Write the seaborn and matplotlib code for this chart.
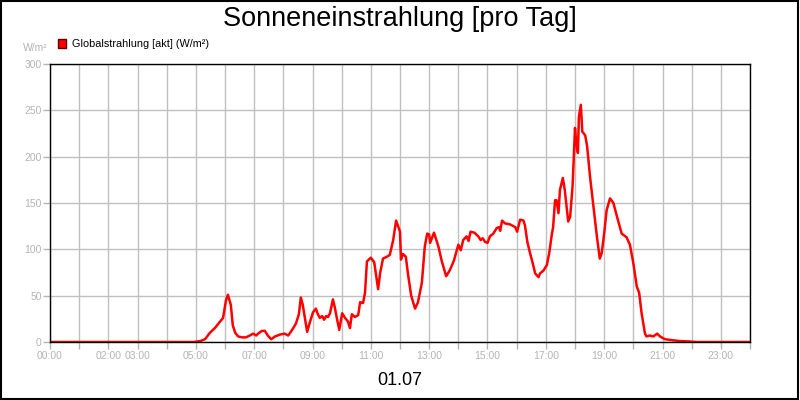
import pandas as pd
import matplotlib.pyplot as plt
import seaborn as sns
from matplotlib.patches import Patch, Rectangle

# Data: time of day and global radiation in W/m²
times = [
    "00:00", "04:55", "05:09", "05:19", "05:29", "05:39", "05:50", "05:56", "06:02", "06:06",
    "06:12", "06:16", "06:21", "06:27", "06:35", "06:43", "06:51", "06:58", "07:04", "07:08",
    "07:16", "07:22", "07:28", "07:35", "07:43", "07:53", "08:03", "08:10", "08:18", "08:26",
    "08:32", "08:36", "08:40", "08:45", "08:49", "08:55", "09:01", "09:07", "09:11", "09:15",
    "09:20", "09:24", "09:28", "09:32", "09:36", "09:42", "09:46", "09:50", "09:55", "10:01",
    "10:07", "10:13", "10:17", "10:21", "10:27", "10:34", "10:38", "10:44", "10:48", "10:52",
    "11:00", "11:07", "11:15", "11:19", "11:25", "11:33", "11:39", "11:46", "11:52", "12:00",
    "12:02", "12:06", "12:12", "12:16", "12:23", "12:31", "12:37", "12:45", "12:51", "12:56",
    "13:00", "13:02", "13:10", "13:19", "13:26", "13:35", "13:43", "13:51", "14:00", "14:05",
    "14:10", "14:17", "14:21", "14:25", "14:33", "14:41", "14:46", "14:50", "14:55", "15:00",
    "15:05", "15:12", "15:19", "15:24", "15:26", "15:30", "15:36", "15:46", "15:57", "16:01",
    "16:07", "16:14", "16:17", "16:22", "16:27", "16:34", "16:38", "16:45", "16:48", "16:55",
    "17:02", "17:07", "17:12", "17:15", "17:19", "17:22", "17:26", "17:29", "17:35", "17:39",
    "17:46", "17:50", "17:55", "18:00", "18:03", "18:06", "18:08", "18:12", "18:15", "18:21",
    "18:25", "18:31", "18:38", "18:45", "18:51", "18:55", "19:00", "19:05", "19:12", "19:19",
    "19:26", "19:36", "19:46", "19:53", "20:00", "20:07", "20:12", "20:17", "20:24", "20:27",
    "20:34", "20:41", "20:49", "20:55", "21:05", "21:19", "21:36", "21:57", "22:10", "24:00",
]
radiation = [
    0, 0, 1, 3, 10, 15, 22, 26, 45, 51,
    40, 18, 10, 6, 5, 5, 7, 9, 7, 9,
    12, 12, 7, 3, 6, 8, 9, 7, 13, 20,
    30, 48, 40, 24, 11, 22, 32, 36, 30, 26,
    28, 24, 28, 27, 31, 46, 37, 26, 13, 31,
    26, 22, 15, 30, 27, 29, 43, 42, 53, 87,
    91, 86, 57, 74, 90, 92, 94, 110, 131, 119,
    89, 95, 92, 75, 50, 36, 43, 64, 103, 117,
    116, 107, 118, 103, 87, 71, 78, 88, 105, 99,
    110, 114, 109, 119, 118, 114, 110, 112, 108, 107,
    114, 117, 123, 124, 120, 131, 128, 127, 124, 119,
    132, 131, 126, 108, 97, 83, 74, 70, 74, 77,
    83, 96, 115, 124, 153, 153, 139, 164, 177, 164,
    130, 135, 168, 231, 213, 204, 243, 256, 227, 223,
    211, 178, 146, 114, 90, 96, 117, 142, 155, 150,
    136, 117, 113, 105, 85, 60, 53, 31, 9, 6,
    7, 6, 9, 6, 3, 2, 1, 0.5, 0, 0,
]
hour_labels = ["00:00", "", "02:00", "03:00", "", "05:00", "", "07:00", "", "09:00",
               "", "11:00", "", "13:00", "", "15:00", "", "17:00", "", "19:00",
               "", "21:00", "", "23:00", ""]

df = pd.DataFrame({"time": times, "value": radiation})
df["hour"] = df["time"].apply(lambda t: int(t[:2]) + int(t[3:]) / 60)

sns.set_style("white")
plt.rcParams["font.family"] = ["Liberation Sans", "DejaVu Sans"]
plt.rcParams["text.color"] = "black"

fig = plt.figure(figsize=(8, 4), dpi=100)
ax = fig.add_axes([0.0625, 0.145, 0.875, 0.695])

sns.lineplot(data=df, x="hour", y="value", color="#ff0000", linewidth=1.8, legend=False, ax=ax)

grey = "#b4b4b4"
ax.set_xlim(0, 24)
ax.set_ylim(0, 300)
ax.set_xticks(range(25))
ax.set_xticklabels(hour_labels)
ax.set_yticks(range(0, 301, 50))
ax.tick_params(axis="both", colors=grey, labelcolor=grey, labelsize=7.5,
               length=5, width=1, direction="out", bottom=True, left=True)
ax.tick_params(axis="y", pad=1)
ax.tick_params(axis="x", pad=1.5)
ax.grid(True, color="#c0c0c0", linewidth=1)
ax.set_axisbelow(True)
for side in ["left", "right", "top", "bottom"]:
    ax.spines[side].set_color("black")
    ax.spines[side].set_linewidth(1)
ax.set_xlabel("")
ax.set_ylabel("")

# Titles and labels
fig.text(0.5, 0.952, "Sonneneinstrahlung [pro Tag]", ha="center", va="center",
         fontsize=19.5, color="black")
fig.text(0.5, 0.048, "01.07", ha="center", va="center", fontsize=13, color="black")
fig.text(0.029, 0.879, "W/m²", ha="left", va="center", fontsize=7.5, color=grey)

fig.legend(handles=[Patch(facecolor="#ff0000", edgecolor="#600000", label="Globalstrahlung [akt] (W/m²)")],
           loc="center left", bbox_to_anchor=(0.072, 0.889), frameon=False, fontsize=7.8,
           labelcolor="black", handlelength=0.8, handleheight=0.8, handletextpad=0.5,
           borderaxespad=0, borderpad=0)

# Outer frame around the whole image
fig.add_artist(Rectangle((0.001, 0.002), 0.997, 0.996, transform=fig.transFigure,
                         fill=False, edgecolor="black", linewidth=1.5))

plt.savefig("out.png", dpi=100, facecolor="white")
plt.close()
